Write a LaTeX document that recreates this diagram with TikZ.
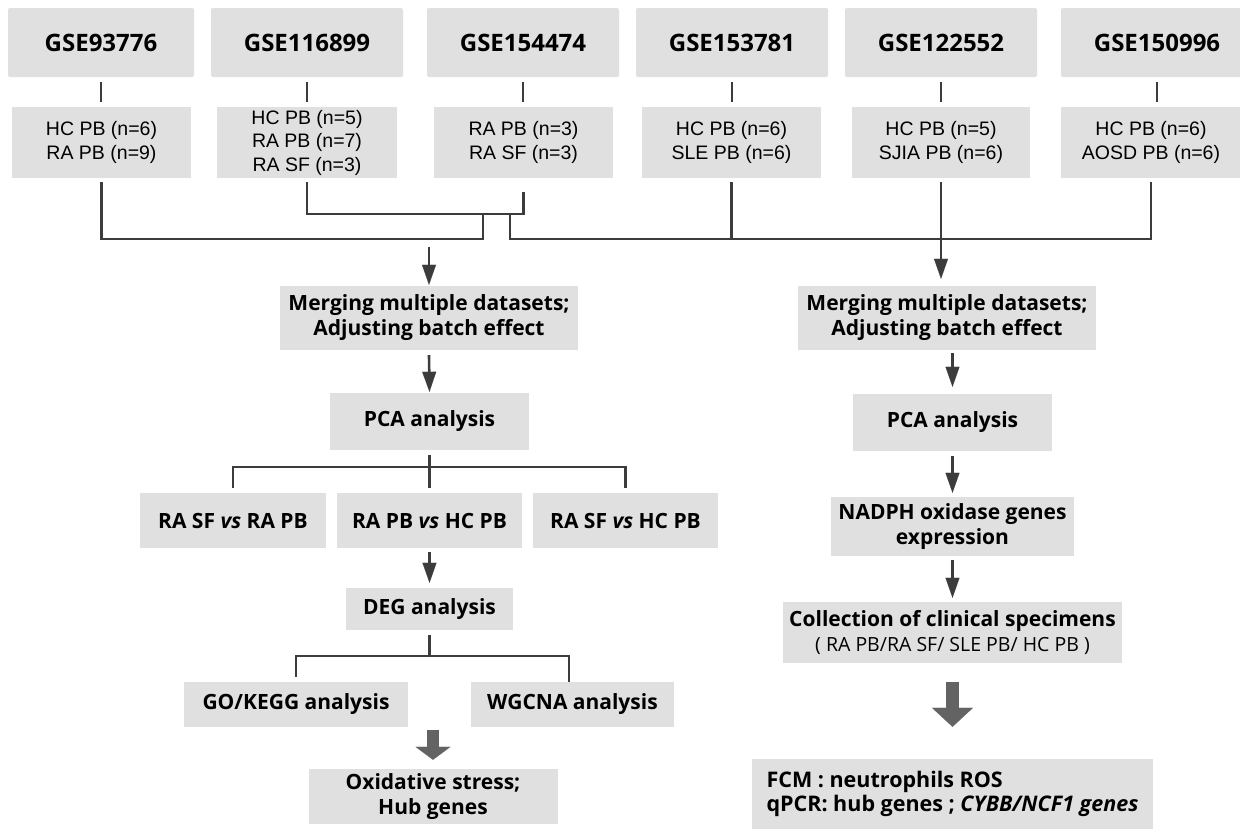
\documentclass[tikz,border=0pt]{standalone}
\usepackage{fontspec}
\setmainfont{Open Sans}
\newfontfamily\arialf{Liberation Sans}
\usetikzlibrary{arrows.meta}
\definecolor{boxgray}{HTML}{E0E0E0}
\definecolor{linegray}{HTML}{3C3C3C}
\definecolor{thickgray}{HTML}{636363}
\begin{document}
\begin{tikzpicture}[x=1pt,y=-1pt,
  box/.style={fill=boxgray, draw=none, inner sep=0pt, align=center,
    font=\fontsize{21}{25}\selectfont\bfseries},
  gse/.style={box, rounded corners=2pt, minimum width=192pt, minimum height=69pt,
    font=\fontsize{24}{28}\selectfont\bfseries},
  sub/.style={box, minimum width=179pt, minimum height=71pt,
    font=\arialf\fontsize{19.5}{23.5}\selectfont},
  conn/.style={draw=linegray, line width=2.6pt},
  arr/.style={conn, -{Triangle[width=14pt,length=20pt,line width=0.1pt]}},
  fat/.style={draw=thickgray, line width=12pt,
    -{Triangle[width=35pt,length=13pt,line width=0.1pt]}},
]
\clip (0,0) rectangle (1240,830);
\fill[white] (0,0) rectangle (1240,830);

% dataset boxes
\node[gse, minimum width=186pt] (g1) at (101,42.5) {GSE93776};
\node[gse] (g2) at (307,42.5) {GSE116899};
\node[gse] (g3) at (523,42.5) {GSE154474};
\node[gse] (g4) at (732,42.5) {GSE153781};
\node[gse] (g5) at (941,42.5) {GSE122552};
\node[gse] (g6) at (1157,42.5) {GSE150996};

% sample boxes
\node[sub] (s1) at (101.5,142.5) {HC PB (n=6)\\RA PB (n=9)};
\node[sub, minimum width=180pt] (s2) at (307,142.5) {HC PB (n=5)\\RA PB (n=7)\\RA SF (n=3)};
\node[sub] (s3) at (523.5,142.5) {RA PB (n=3)\\RA SF (n=3)};
\node[sub] (s4) at (731.5,142.5) {HC PB (n=6)\\SLE PB (n=6)};
\node[sub, minimum width=178pt] (s5) at (941,142.5) {HC PB (n=5)\\SJIA PB (n=6)};
\node[sub, minimum width=180pt] (s6) at (1151,142.5) {HC PB (n=6)\\AOSD PB (n=6)};

\foreach \i in {1,...,6}{
  \draw[conn] ([yshift=-5pt]g\i.south) -- ([yshift=5pt]g\i.south |- s\i.north);
}

% merging lines
\coordinate (ja) at (483,214);
\coordinate (lowL) at (483,239);
\coordinate (jb) at (510,214);
\coordinate (lowR) at (510,239);
\draw[conn] ([yshift=-4pt]s1.south) |- (lowL) -- (ja);
\draw[conn] ([yshift=-4pt]s2.south) |- (ja) -| ([yshift=-14pt]s3.south);
\draw[conn] (jb) -- (lowR) -| ([yshift=-4pt]s6.south);
\draw[conn] ([yshift=-4pt]s4.south) -- (s4.south |- lowR);

% left column
\node[box, minimum width=298pt, minimum height=64pt] (m1) at (429,318)
  {Merging multiple datasets;\\Adjusting batch effect};
\node[box, minimum width=199pt, minimum height=57pt] (p1) at (429.5,421.5) {PCA analysis};
\node[box, minimum width=186pt, minimum height=55pt] (c1) at (233,520.5) {RA SF \textit{vs} RA PB};
\node[box, minimum width=185pt, minimum height=55pt] (c2) at (429.5,520.5) {RA PB \textit{vs} HC PB};
\node[box, minimum width=185pt, minimum height=55pt] (c3) at (625.5,520.5) {RA SF \textit{vs} HC PB};
\node[box, minimum width=167pt, minimum height=42pt] (deg) at (429.5,609) {DEG analysis};
\node[box, minimum width=224pt, minimum height=45pt] (go) at (296,704.5) {GO/KEGG analysis};
\node[box, minimum width=203pt, minimum height=45pt] (wg) at (572.5,704.5) {WGCNA analysis};
\node[box, minimum width=249pt, minimum height=55pt] (ox) at (433,796.5)
  {Oxidative stress;\\Hub genes};

\draw[arr] ([yshift=39pt]m1.north) -- ([yshift=1pt]m1.north);
\draw[arr] ([yshift=-5pt]m1.south) -- ([yshift=1pt]p1.north);
\coordinate (pbr) at (429.5,467);
\draw[conn] ([yshift=-5pt]p1.south) -- ([yshift=5pt]c2.north);
\draw[conn] ([yshift=5pt]c1.north) |- (pbr) -| ([yshift=5pt]c3.north);
\draw[arr] ([yshift=-4pt]c2.south) -- ([yshift=5pt]deg.north);
\coordinate (dbr) at (429.5,656);
\draw[conn] ([yshift=-5pt]deg.south) -- (dbr);
\draw[conn] ([yshift=5pt]go.north) |- (dbr) -| ([xshift=-3.5pt]wg.north);
\draw[fat] ([yshift=39pt]ox.north) -- ([yshift=9pt]ox.north);

% right column
\node[box, minimum width=298pt, minimum height=64pt] (m2) at (947,318)
  {Merging multiple datasets;\\Adjusting batch effect};
\node[box, minimum width=199pt, minimum height=57pt] (p2) at (952.5,422.5) {PCA analysis};
\node[box, minimum width=243pt, minimum height=59pt] (n) at (952.5,526.5)
  {NADPH oxidase genes\\expression};
\node[box, minimum width=339pt, minimum height=61pt] (cl) at (952.5,632.5)
  {Collection of clinical specimens\\{\mdseries\fontsize{19.5}{23}\selectfont ( RA PB/RA SF/ SLE PB/ HC PB )}};
\node[box, minimum width=401pt, minimum height=70pt, align=left,
  font=\fontsize{21.5}{24}\selectfont\bfseries] (fcm) at (952.5,794)
  {FCM : neutrophils ROS\\qPCR: hub genes ; \textit{CYBB/NCF1 genes}};

\draw[arr] ([yshift=-4pt]s5.south) -- ([yshift=7pt]m2.north -| s5.south);
\draw[arr] ([yshift=-3pt]p2.north |- m2.south) -- ([yshift=7pt]p2.north);
\draw[arr] ([yshift=-5pt]p2.south) -- ([yshift=4pt]n.north);
\draw[arr] ([yshift=-4pt]n.south) -- ([yshift=4pt]cl.north);
\draw[fat, line width=13pt, -{Triangle[width=41pt,length=19pt,line width=0.1pt]}]
  ([yshift=-19pt]cl.south) -- ([yshift=32pt]fcm.north);
\end{tikzpicture}
\end{document}
